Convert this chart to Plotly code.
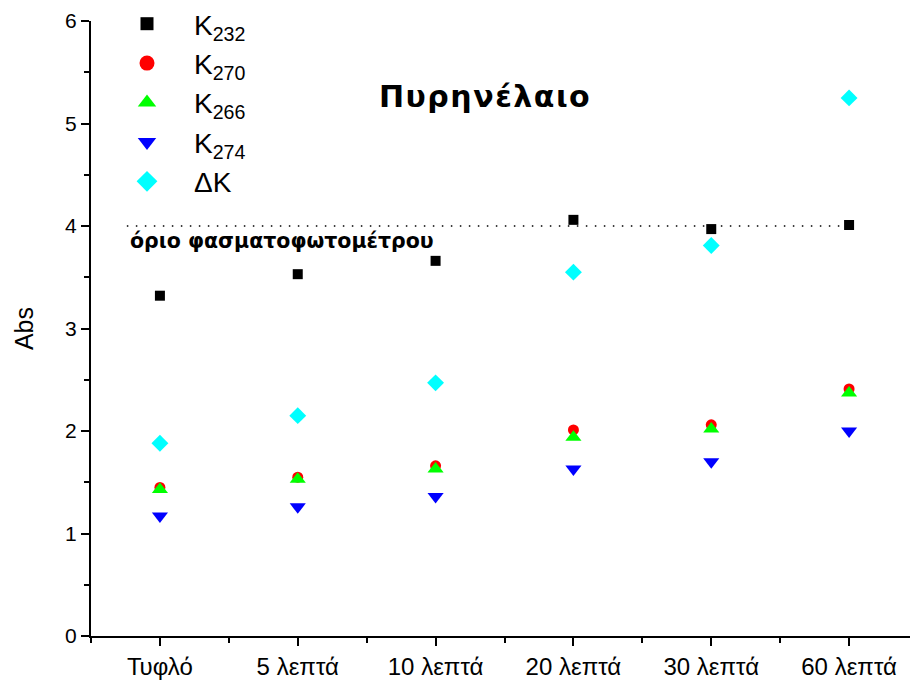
import plotly.graph_objects as go

categories = ["Τυφλό", "5 λεπτά", "10 λεπτά", "20 λεπτά", "30 λεπτά", "60 λεπτά"]
k232 = [3.32, 3.53, 3.66, 4.06, 3.97, 4.01]
k270 = [1.45, 1.55, 1.66, 2.01, 2.06, 2.41]
k266 = [1.43, 1.53, 1.63, 1.94, 2.02, 2.37]
k274 = [1.17, 1.26, 1.36, 1.63, 1.70, 2.00]
dk = [1.88, 2.15, 2.47, 3.55, 3.81, 5.25]
limit_value = 4.0
xpos = list(range(len(categories)))

series = [
    ("K<sub>232</sub>", k232, "square", "black", 10, 13),
    ("K<sub>270</sub>", k270, "circle", "#ff0000", 11, 15),
    ("K<sub>266</sub>", k266, "triangle-up", "#00ff00", 14, 17),
    ("K<sub>274</sub>", k274, "triangle-down", "#0000ff", 14, 17),
    ("ΔK", dk, "diamond", "#00ffff", 13, 16),
]

# page body has an 8px default margin; compensate
OFF = 8
W, H = 918 - OFF, 688 - OFF
L, R, T, B = 91 - OFF, 0, 21 - OFF, 52
PW, PH = W - L - R, H - T - B

def px(xp):
    return (xp - OFF - L) / PW

def py(yp):
    return (H + OFF - B - yp) / PH

fig = go.Figure()
for name, vals, sym, col, sz, lsz in series:
    fig.add_trace(go.Scatter(
        x=xpos, y=vals, mode="markers", name=name, showlegend=False,
        marker=dict(symbol=sym, color=col, size=sz, line=dict(width=0)),
    ))
    fig.add_trace(go.Scatter(
        x=[None], y=[None], mode="markers", name=name, showlegend=True,
        marker=dict(symbol=sym, color=col, size=lsz, line=dict(width=0)),
    ))

fig.add_shape(type="line", xref="x", yref="y", x0=-0.24, x1=5.0,
              y0=limit_value, y1=limit_value,
              line=dict(color="black", width=1.5, dash="1.5px,7.5px"))

fig.add_annotation(x=px(128), y=limit_value, xref="paper", yref="y",
                   text="<b>όριο φασματοφωτομέτρου</b>", showarrow=False,
                   xanchor="left", yanchor="top", yshift=-1,
                   font=dict(family="DejaVu Sans, Verdana, sans-serif", size=20.5, color="black"))

fig.add_annotation(x=px(485), y=py(97), xref="paper", yref="paper",
                   text="<b><span style='letter-spacing:1.5px'>Πυρηνέλαιο</span></b>", showarrow=False,
                   xanchor="center", yanchor="middle",
                   font=dict(family="DejaVu Sans, Verdana, sans-serif", size=30, color="black"))

fig.update_layout(
    width=W, height=H,
    margin=dict(l=L, r=R, t=T, b=B, autoexpand=False),
    paper_bgcolor="white", plot_bgcolor="white",
    font=dict(family="Arial, Liberation Sans, sans-serif", color="black"),
    showlegend=True,
    legend=dict(x=px(100), y=py(-1), xanchor="left", yanchor="top",
                bgcolor="rgba(0,0,0,0)", font=dict(size=28),
                tracegroupgap=0, itemwidth=84),
    xaxis=dict(
        range=[-0.5, 5.5], tickmode="array", tickvals=xpos, ticktext=categories,
        showgrid=False, zeroline=False, showline=True, linecolor="black", linewidth=2,
        ticks="outside", ticklen=8, tickwidth=1.5, tickcolor="black", automargin=False,
        tickfont=dict(size=24),
        minor=dict(tick0=0.5, dtick=1, ticks="outside", ticklen=5, tickwidth=1.5, tickcolor="black"),
    ),
    yaxis=dict(
        range=[0, 6], tickmode="linear", tick0=0, dtick=1,
        showgrid=False, zeroline=False, showline=True, linecolor="black", linewidth=2,
        ticks="outside", ticklen=8, tickwidth=1.5, tickcolor="black", automargin=False,
        tickfont=dict(size=21),
        minor=dict(tick0=0, dtick=0.5, ticks="outside", ticklen=5, tickwidth=1.5, tickcolor="black"),
        title=dict(text="Abs", font=dict(size=25), standoff=24),
    ),
)

fig.write_html("out.html")
